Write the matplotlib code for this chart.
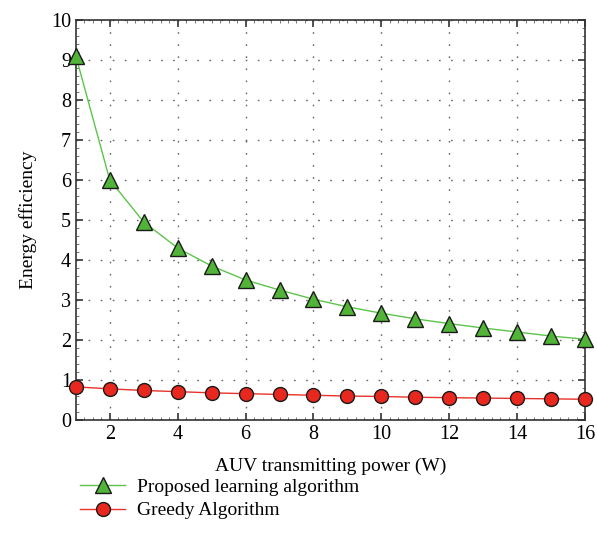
import numpy as np
import matplotlib
matplotlib.use("Agg")
import matplotlib.pyplot as plt
from matplotlib.ticker import MultipleLocator

# ------------------
# Data
# ------------------
power = list(range(1, 17))
proposed = [9.1, 6.0, 4.95, 4.3, 3.85, 3.5, 3.25, 3.02, 2.83, 2.67, 2.53, 2.41, 2.3, 2.2, 2.1, 2.02]
greedy = [0.83, 0.78, 0.74, 0.71, 0.68, 0.66, 0.64, 0.62, 0.60, 0.59, 0.57, 0.56, 0.55, 0.54, 0.53, 0.52]
xticks = [2, 4, 6, 8, 10, 12, 14, 16]
yticks = list(range(0, 11))

plt.rcParams['font.family'] = ['Liberation Serif', 'DejaVu Serif']

fig = plt.figure(figsize=(5.97, 5.52), dpi=100)
ax = fig.add_axes([0.127, 0.239, 0.853, 0.725])

ax.plot(power, proposed, color='#5cc44a', lw=1.0, marker='^', ms=11,
        mfc='#52b339', mec='#1a1a1a', mew=1.0, label='Proposed learning algorithm', clip_on=False, zorder=3)
ax.plot(power, greedy, color='#e8322a', lw=1.0, marker='o', ms=10,
        mfc='#e8281f', mec='#1a1a1a', mew=1.0, label='Greedy Algorithm', clip_on=False, zorder=3)

ax.set_xlim(1, 16)
ax.set_ylim(0, 10)
ax.set_xticks(xticks)
ax.set_yticks(yticks)
ax.xaxis.set_minor_locator(MultipleLocator(0.25))
ax.yaxis.set_minor_locator(MultipleLocator(0.2))
ax.grid(True, which='major', linestyle=(0, (1.2, 7.5)), color='#666666', lw=1.0)
ax.tick_params(which='major', direction='in', top=True, right=True, labelsize=14.5, length=5, color='#333333', width=1.2)
ax.tick_params(which='minor', direction='in', top=True, right=True, length=2, color='#777777', width=0.7)
for s in ax.spines.values():
    s.set_color('#333333')
    s.set_linewidth(1.2)

ax.set_xlabel('AUV transmitting power (W)', fontsize=14, labelpad=10)
ax.set_ylabel('Energy efficiency', fontsize=14, labelpad=10)

fig.legend(loc='upper left', bbox_to_anchor=(0.105, 0.165), frameon=False,
           fontsize=14, handlelength=2.3, handletextpad=0.6, labelspacing=0.3)

fig.savefig('out.png', dpi=100)
